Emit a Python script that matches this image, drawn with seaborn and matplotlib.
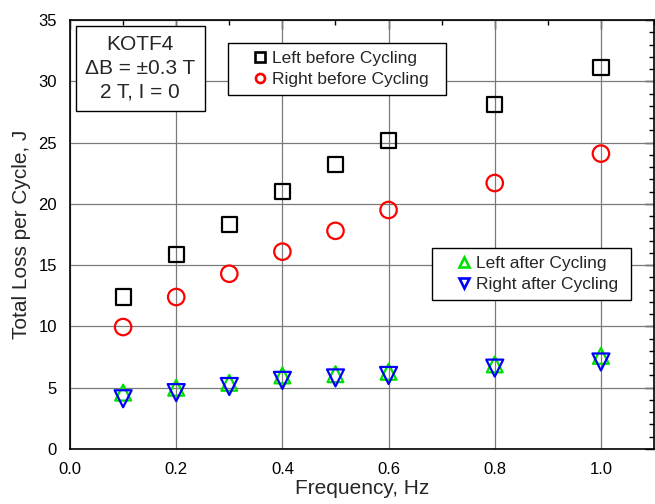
import matplotlib
matplotlib.use("Agg")
import matplotlib.pyplot as plt
import seaborn as sns
import pandas as pd
from matplotlib.ticker import MultipleLocator

freq = [0.1, 0.2, 0.3, 0.4, 0.5, 0.6, 0.8, 1.0]
left_before = [12.4, 15.9, 18.3, 21.0, 23.2, 25.2, 28.1, 31.1]
right_before = [9.95, 12.4, 14.3, 16.1, 17.8, 19.5, 21.7, 24.1]
left_after = [4.6, 5.0, 5.4, 6.0, 6.1, 6.3, 6.9, 7.6]
right_after = [4.1, 4.6, 5.1, 5.6, 5.8, 6.0, 6.6, 7.1]

sns.set_style("white")
plt.rcParams["font.family"] = ["Liberation Sans", "DejaVu Sans"]

fig = plt.figure(figsize=(6.55, 5.04), dpi=100)
ax = fig.add_axes([0.1069, 0.1091, 0.8916, 0.8512])

series = [
    ("Left before Cycling", left_before, "s", "black", 120),
    ("Right before Cycling", right_before, "o", "#ff0000", 140),
    ("Left after Cycling", left_after, "^", "#00e000", 130),
    ("Right after Cycling", right_after, "v", "#0000ff", 150),
]
handles = {}
for name, vals, mk, col, size in series:
    df = pd.DataFrame({"f": freq, "loss": vals})
    sns.scatterplot(data=df, x="f", y="loss", ax=ax, marker=mk, s=size,
                    facecolor="none", edgecolor=col, linewidth=1.6, zorder=3)
    handles[name] = plt.Line2D([], [], ls="none", marker=mk, markersize=6.5,
                               markerfacecolor="none", markeredgecolor=col,
                               markeredgewidth=1.9)

ax.set_xlim(0, 1.1)
ax.set_ylim(0, 35)
ax.xaxis.set_major_locator(MultipleLocator(0.2))
ax.xaxis.set_minor_locator(MultipleLocator(0.1))
ax.yaxis.set_major_locator(MultipleLocator(5))
ax.yaxis.set_minor_locator(MultipleLocator(1))
ax.grid(True, which="major", color="#7a7a7a", linewidth=0.9, zorder=0)
ax.set_axisbelow(True)
ax.tick_params(which="both", direction="out", labelsize=12, colors="black",
               pad=3)
ax.tick_params(which="major", length=6.5, width=1)
ax.tick_params(which="minor", length=3.5, width=1)
for sp in ax.spines.values():
    sp.set_color("black")
    sp.set_linewidth(1.2)
ax.set_xlabel("Frequency, Hz", fontsize=15, labelpad=1)
ax.set_ylabel("Total Loss per Cycle, J", fontsize=15, labelpad=5)
ax.xaxis.set_major_formatter(plt.FuncFormatter(lambda v, p: f"{v:.1f}"))

# mirrored ticks pointing inward on top and right
top = ax.secondary_xaxis("top")
top.xaxis.set_major_locator(MultipleLocator(0.2))
top.xaxis.set_minor_locator(MultipleLocator(0.1))
right = ax.secondary_yaxis("right")
right.yaxis.set_major_locator(MultipleLocator(5))
right.yaxis.set_minor_locator(MultipleLocator(1))
for sec in (top, right):
    sec.tick_params(which="both", direction="in", labelleft=False,
                    labelright=False, labeltop=False, labelbottom=False,
                    colors="black")
    sec.tick_params(which="major", length=6.5, width=1)
    sec.tick_params(which="minor", length=3.5, width=1)
    for sp in sec.spines.values():
        sp.set_visible(False)

ax.text(0.12, 0.887,
        "KOTF4\n\u0394B = \u00b10.3 T\n2 T, I = 0",
        transform=ax.transAxes, ha="center", va="center", fontsize=15,
        linespacing=1.3, zorder=5,
        bbox=dict(boxstyle="square,pad=0.45", facecolor="white",
                  edgecolor="black", linewidth=1))

leg_kw = dict(loc="upper left", fontsize=12.5, frameon=True, fancybox=False,
              edgecolor="black", borderaxespad=0, borderpad=0.45,
              labelspacing=0.36, handlelength=2.78, handletextpad=-0.7,
              framealpha=1)
leg1 = ax.legend([handles["Left before Cycling"], handles["Right before Cycling"]],
                 ["Left before Cycling  ", "Right before Cycling  "],
                 bbox_to_anchor=(0.2705, 0.9464), **leg_kw)
leg1.get_frame().set_linewidth(1)
ax.add_artist(leg1)
leg2 = ax.legend([handles["Left after Cycling"], handles["Right after Cycling"]],
                 ["Left after Cycling ", "Right after Cycling "],
                 bbox_to_anchor=(0.6199, 0.4685), **leg_kw)
leg2.get_frame().set_linewidth(1)

fig.savefig("out.png", dpi=100)
